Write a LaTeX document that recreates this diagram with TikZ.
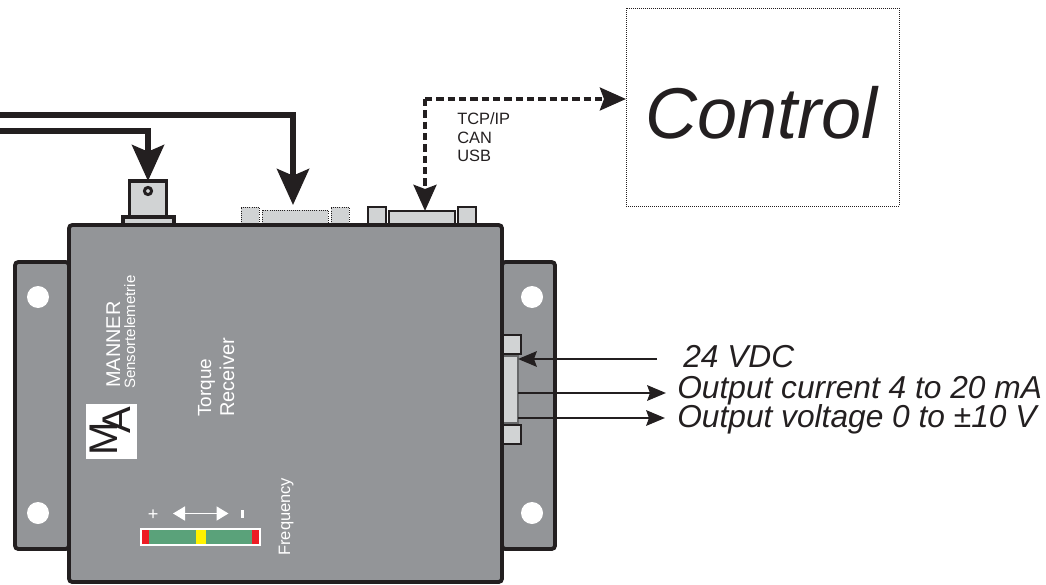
\documentclass[tikz,border=0pt]{standalone}
\usepackage{fontspec}
\setmainfont{Liberation Sans}
\usetikzlibrary{arrows.meta}
\definecolor{boxgrey}{HTML}{939598}
\definecolor{lightgrey}{HTML}{D1D3D4}
\definecolor{inkdark}{HTML}{231F20}
\definecolor{ledgreen}{HTML}{5AA27A}
\definecolor{ledred}{HTML}{ED1C24}
\definecolor{ledyellow}{HTML}{FFF200}
\newcommand{\pxfont}[1]{\fontsize{\fpeval{#1*0.75}pt}{\fpeval{#1*0.9}pt}\selectfont}
\tikzset{
  x=0.75pt,y=-0.75pt,
  housing/.style={draw=inkdark,fill=boxgrey,line width=2.9pt,rounded corners=2.5pt},
  plugbox/.style={rectangle,draw=inkdark,fill=lightgrey,line width=0.9pt,inner sep=0pt,outer sep=0pt},
  dotplug/.style={rectangle,draw=inkdark,fill=lightgrey,line width=0.6pt,densely dotted,inner sep=0pt,outer sep=0pt},
  hole/.style={circle,fill=white,inner sep=0pt,minimum size=16.5pt},
  fatline/.style={draw=inkdark,line width=4.2pt,line join=miter,-{Stealth[length=27pt,width=24pt,inset=5pt]}},
  fatdash/.style={draw=inkdark,line width=3.4pt,dash pattern=on 5.5pt off 3pt,-{Stealth[length=19.5pt,width=17pt,inset=3pt]}},
  thinline/.style={draw=inkdark,line width=2.2pt,-{Stealth[length=14pt,width=11.5pt,inset=2pt]}},
  sidetext/.style={inner sep=0pt,text=inkdark,anchor=base west},
  panel/.style={inner sep=0pt,text=white,rotate=90,anchor=base west},
}
\begin{document}
\begin{tikzpicture}
\useasboundingbox (0,0) rectangle (1046,585);
% flanges
\path[housing] (15,262) rectangle (69,549);
\path[housing] (502,262) rectangle (555,549);
\node[hole] (h1) at (38,297) {};
\node[hole] (h2) at (38,513) {};
\node[hole] (h3) at (532,297) {};
\node[hole] (h4) at (532,513) {};
% connectors on the top edge
\node[plugbox,line width=2.6pt,minimum width=38.25pt,minimum height=6pt] (bncbase) at (148.5,221) {};
\node[plugbox,line width=2.6pt,minimum width=27.75pt,minimum height=27pt] (bnc) at (148,199) {};
\draw[inkdark,line width=2.2pt,fill=lightgrey] (148,191) circle (3.6);
\node[dotplug,minimum width=13.5pt,minimum height=13.5pt] (ds1a) at (250,216) {};
\node[dotplug,minimum width=49.5pt,minimum height=11.25pt] (ds1) at (295,217.5) {};
\node[dotplug,minimum width=13.5pt,minimum height=13.5pt] (ds1b) at (340,216) {};
\node[plugbox,minimum width=13.5pt,minimum height=13.5pt] (ds2a) at (377,216) {};
\node[plugbox,minimum width=49.5pt,minimum height=10.5pt] (ds2) at (422,218) {};
\node[plugbox,minimum width=13.5pt,minimum height=13.5pt] (ds2b) at (467,216) {};
% right connector
\node[plugbox,minimum width=14.25pt,minimum height=14.25pt] (ra) at (511.5,344.5) {};
\node[plugbox,minimum width=14.25pt,minimum height=14.25pt] (rb) at (511.5,434.5) {};
\node[plugbox,draw=boxgrey!70!black,line width=1.2pt,minimum width=11.25pt,minimum height=50.25pt] (bar) at (510.5,389.5) {};
% main housing
\path[housing] (69,225) rectangle (502,582);
% control
\node[draw=inkdark,densely dotted,line width=0.5pt,minimum width=204.75pt,minimum height=148.5pt,inner sep=0pt,outer sep=0pt] (ctrl) at (762.5,107) {};
\node[inner sep=0pt,text=inkdark,anchor=base west] (ctrltext) at (645,138) {\pxfont{72}\itshape Control};
% arrows
\coordinate (w1) at (0,115);
\coordinate (w2) at (0,131);
\draw[fatline,shorten >=3.75pt] (w1) -| (ds1.north -| 293,0);
\draw[fatline] (w2) -| (bnc.north);
\coordinate (dc) at (425,99);
\draw[fatdash] (dc) -- (dc |- ds2.north);
\draw[fatdash] (dc) -- (dc -| ctrl.west);
% texts
\node[sidetext] (tcp) at (457,124) {\pxfont{16.4}TCP/IP};
\node[sidetext] (can) at (457,143) {\pxfont{16.4}CAN};
\node[sidetext] (usb) at (457,161.5) {\pxfont{16.4}USB};
\node[sidetext] (l24) at (683,367) {\pxfont{31.7}\itshape 24 VDC};
\node[sidetext] (lcur) at (677,398) {\pxfont{31.7}\itshape Output current 4 to 20 mA};
\node[sidetext] (lvol) at (677,427) {\pxfont{31.7}\itshape Output voltage 0 to ±10 V};
\coordinate (a0) at (657,359);
\coordinate (b1) at (666,393);
\coordinate (c1) at (665,418);
\draw[thinline] (a0) -- (a0 -| bar.east);
\draw[thinline] (b1 -| bar.east) -- (b1);
\draw[thinline] (c1 -| bar.east) -- (c1);
% panel
\node[panel] (man) at (120,388) {\pxfont{19.9}MANNER};
\node[panel] (sen) at (135,389) {\pxfont{15}Sensortelemetrie};
\node[panel] (tor) at (211,417) {\pxfont{19}Torque};
\node[panel] (rec) at (234,417) {\pxfont{20}Receiver};
\node[panel] (fre) at (290,556) {\pxfont{16.5}Frequency};
\node[fill=white,inner sep=0pt,minimum width=38.25pt,minimum height=41.25pt] (logo) at (111.5,431.5) {};
\node[inner sep=0pt,text=inkdark,rotate=90,anchor=base west] (lm) at (117,456) {\pxfont{40}M};
\node[inner sep=0pt,text=inkdark,rotate=90,anchor=base west] (la) at (130,434) {\pxfont{40}A};
% frequency bar
\fill[white] (140,528) rectangle (261,545.5);
\fill[ledgreen] (149,530) rectangle (252,543.5);
\fill[ledred] (142,530) rectangle (149,543.5);
\fill[ledred] (252,530) rectangle (259,543.5);
\fill[ledyellow] (196,530) rectangle (206,543.5);
\coordinate (fa) at (173,513.5);
\coordinate (fb) at (228.5,513.5);
\draw[white,line width=1.2pt,{Stealth[length=9pt,width=10.5pt,inset=0pt]}-{Stealth[length=9pt,width=10.5pt,inset=0pt]}] (fa) -- (fb);
\node[panel,anchor=center] (plus) at (154,514) {\pxfont{18}+};
\fill[white] (241,510) rectangle (244,518);
\end{tikzpicture}
\end{document}
